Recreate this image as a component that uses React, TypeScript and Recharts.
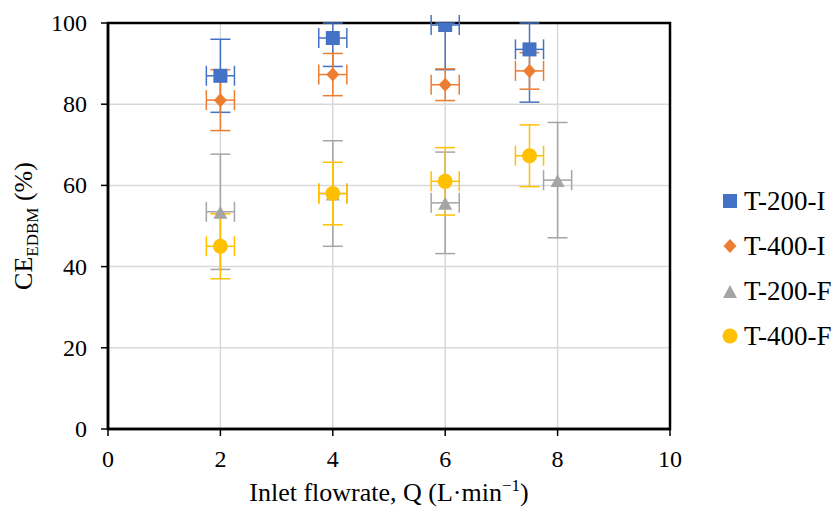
import React from 'react';
import {
  ScatterChart, Scatter, XAxis, YAxis, CartesianGrid, ErrorBar, ReferenceArea,
} from 'recharts';

const flowT200I = [2, 4, 6, 7.5];
const ceT200I = [87, 96.3, 99.5, 93.5];
const errT200I = [9, 7, 11, 13];

const flowT400I = [2, 4, 6, 7.5];
const ceT400I = [81, 87.3, 84.8, 88.2];
const errT400I = [7.5, 5.2, 3.9, 4.5];

const flowT200F = [2, 4, 6, 8];
const ceT200F = [53.5, 58, 55.7, 61.3];
const errT200F = [14.2, 13, 12.5, 14.2];

const flowT400F = [2, 4, 6, 7.5];
const ceT400F = [45, 58, 61, 67.3];
const errT400F = [8, 7.7, 8.3, 7.6];

const flowErr = 0.25;
const yMax = 100;

const xTicks = [0, 2, 4, 6, 8, 10];
const yTicks = [0, 20, 40, 60, 80, 100];

// excel clips error bars at the plot edge, so cap the upper part at yMax
const build = (xs: number[], ys: number[], es: number[]) =>
  xs.map((x, i) => ({
    x,
    y: ys[i],
    ex: flowErr,
    ey: [es[i], Math.min(es[i], yMax - ys[i])],
  }));

const FONT = 'Liberation Serif';

const C_BLUE = '#4472C4';
const C_ORANGE = '#ED7D31';
const C_GRAY = '#A5A5A5';
const C_YELLOW = '#FFC000';

const Square = (p: any) => (
  <rect x={p.cx - 7} y={p.cy - 7} width={14} height={14} fill={C_BLUE} />
);
const Diamond = (p: any) => (
  <polygon
    points={`${p.cx},${p.cy - 7} ${p.cx + 6.5},${p.cy} ${p.cx},${p.cy + 7} ${p.cx - 6.5},${p.cy}`}
    fill={C_ORANGE}
  />
);
const Triangle = (p: any) => (
  <polygon
    points={`${p.cx},${p.cy - 6} ${p.cx + 7},${p.cy + 7} ${p.cx - 7},${p.cy + 7}`}
    fill={C_GRAY}
  />
);
const Circle = (p: any) => <circle cx={p.cx} cy={p.cy} r={7.5} fill={C_YELLOW} />;

const legendItems = [
  { name: 'T-200-I', color: C_BLUE, kind: 'square' },
  { name: 'T-400-I', color: C_ORANGE, kind: 'diamond' },
  { name: 'T-200-F', color: C_GRAY, kind: 'triangle' },
  { name: 'T-400-F', color: C_YELLOW, kind: 'circle' },
];

const XTick = (p: any) => (
  <text x={p.x} y={p.y + 29} textAnchor="middle" fontFamily={FONT} fontSize={24} fill="#000">
    {p.payload.value}
  </text>
);

const YTick = (p: any) => (
  <text x={p.x - 12} y={p.y + 8} textAnchor="end" fontFamily={FONT} fontSize={24} fill="#000">
    {p.payload.value}
  </text>
);

function Legend() {
  return (
    <g>
      {legendItems.map((it, i) => {
        const cy = 201 + i * 45;
        const cx = 730;
        return (
          <g key={it.name}>
            {it.kind === 'square' && <rect x={cx - 7} y={cy - 7} width={14} height={14} fill={it.color} />}
            {it.kind === 'diamond' && (
              <polygon points={`${cx},${cy - 7} ${cx + 6.5},${cy} ${cx},${cy + 7} ${cx - 6.5},${cy}`} fill={it.color} />
            )}
            {it.kind === 'triangle' && (
              <polygon points={`${cx},${cy - 6} ${cx + 7},${cy + 7} ${cx - 7},${cy + 7}`} fill={it.color} />
            )}
            {it.kind === 'circle' && <circle cx={cx} cy={cy} r={7.5} fill={it.color} />}
            <text x={744} y={cy + 9} fontFamily={FONT} fontSize={27} fill="#000">{it.name}</text>
          </g>
        );
      })}
    </g>
  );
}

const YTitle = () => (
  <text
    x={32}
    y={226}
    transform="rotate(-90, 32, 226)"
    textAnchor="middle"
    fontFamily={FONT}
    fontSize={26}
    fill="#000"
  >
    CE
    <tspan fontSize={17} dy={6}>EDBM</tspan>
    <tspan dy={-6}> (%)</tspan>
  </text>
);

const XTitle = () => (
  <text x={389} y={501} textAnchor="middle" fontFamily={FONT} fontSize={26} fill="#000">
    Inlet flowrate, Q (L·min
    <tspan fontSize={17} dy={-10}>−1</tspan>
    <tspan dy={10}>)</tspan>
  </text>
);

export default function App() {
  return (
    <div style={{ width: 837, height: 508, background: '#fff' }}>
      <style>{'body{margin:0}'}</style>
      <ScatterChart
        width={837}
        height={508}
        margin={{ top: 23, right: 167, left: 0, bottom: 0 }}
      >
        <CartesianGrid stroke="#D9D9D9" strokeWidth={1.5} />
        <XAxis
          type="number"
          dataKey="x"
          domain={[0, 10]}
          ticks={xTicks}
          height={79}
          allowDataOverflow
          axisLine={{ stroke: '#000', strokeWidth: 2.5 }}
          tickLine={{ stroke: '#000', strokeWidth: 1.5 }}
          tickSize={7}
          tick={XTick}
        />
        <YAxis
          type="number"
          dataKey="y"
          domain={[0, yMax]}
          ticks={yTicks}
          width={108}
          allowDataOverflow
          axisLine={{ stroke: '#000', strokeWidth: 2.5 }}
          tickLine={{ stroke: '#000', strokeWidth: 1.5 }}
          tickSize={7}
          tick={YTick}
        />
        <ReferenceArea
          x1={0}
          x2={10}
          y1={0}
          y2={yMax}
          fill="none"
          stroke="#000"
          strokeWidth={2.5}
          ifOverflow="visible"
        />
        <Scatter data={build(flowT200I, ceT200I, errT200I)} shape={Square} isAnimationActive={false}>
          <ErrorBar dataKey="ex" direction="x" width={10} stroke={C_BLUE} strokeWidth={1.5} />
          <ErrorBar dataKey="ey" direction="y" width={10} stroke={C_BLUE} strokeWidth={1.5} />
        </Scatter>
        <Scatter data={build(flowT400I, ceT400I, errT400I)} shape={Diamond} isAnimationActive={false}>
          <ErrorBar dataKey="ex" direction="x" width={10} stroke={C_ORANGE} strokeWidth={1.5} />
          <ErrorBar dataKey="ey" direction="y" width={10} stroke={C_ORANGE} strokeWidth={1.5} />
        </Scatter>
        <Scatter data={build(flowT200F, ceT200F, errT200F)} shape={Triangle} isAnimationActive={false}>
          <ErrorBar dataKey="ex" direction="x" width={10} stroke={C_GRAY} strokeWidth={1.5} />
          <ErrorBar dataKey="ey" direction="y" width={10} stroke={C_GRAY} strokeWidth={1.5} />
        </Scatter>
        <Scatter data={build(flowT400F, ceT400F, errT400F)} shape={Circle} isAnimationActive={false}>
          <ErrorBar dataKey="ex" direction="x" width={10} stroke={C_YELLOW} strokeWidth={1.5} />
          <ErrorBar dataKey="ey" direction="y" width={10} stroke={C_YELLOW} strokeWidth={1.5} />
        </Scatter>
        <YTitle />
        <XTitle />
        <Legend />
      </ScatterChart>
    </div>
  );
}
